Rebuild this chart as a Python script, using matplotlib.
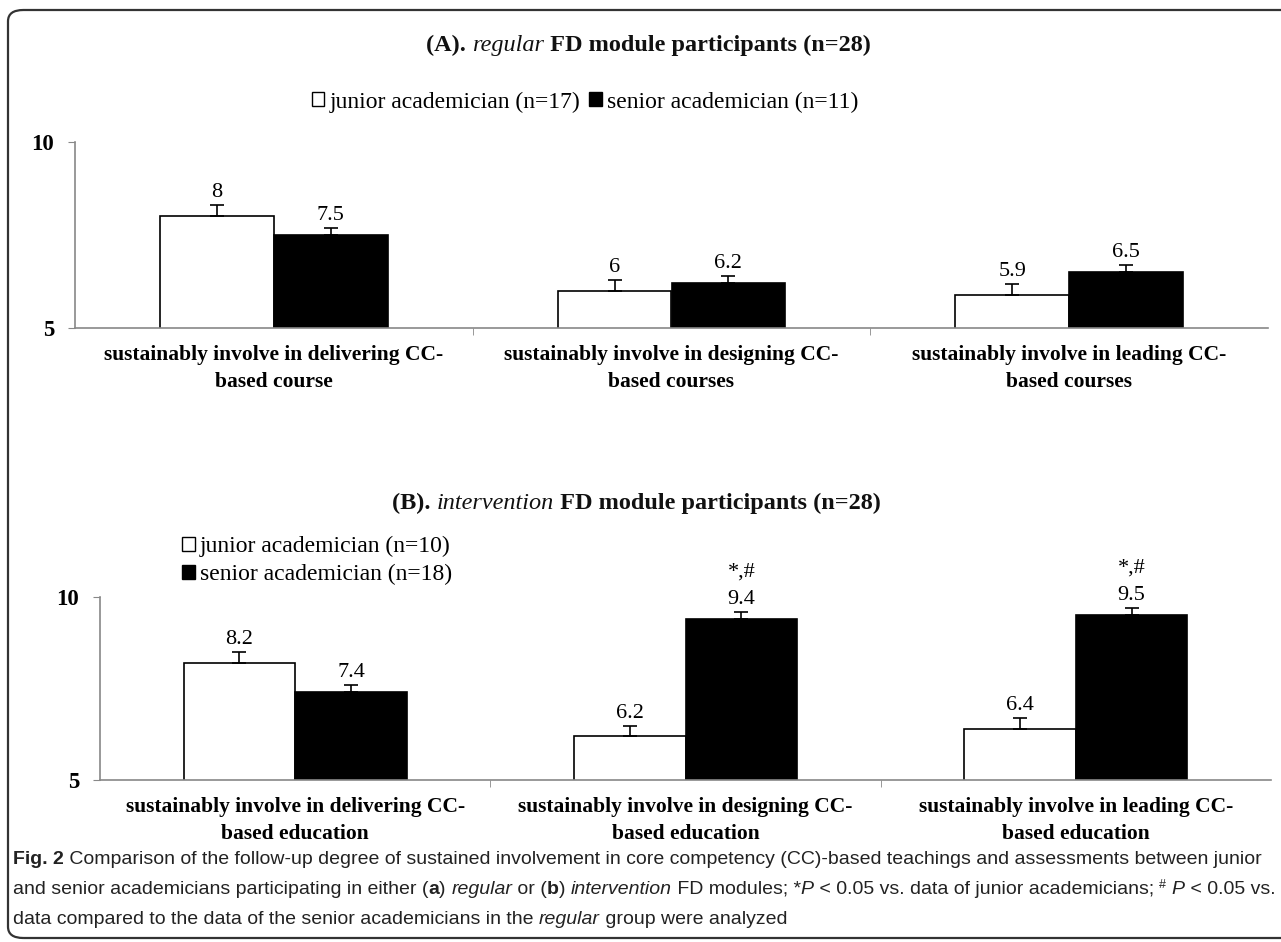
import numpy as np
import matplotlib
import matplotlib.pyplot as plt
from matplotlib.patches import Patch, FancyBboxPatch
from matplotlib import font_manager

W, H = 1281, 942

# data
cats_a = ['sustainably involve in delivering CC-\nbased course',
          'sustainably involve in designing CC-\nbased courses',
          'sustainably involve in leading CC-\nbased courses']
cats_b = ['sustainably involve in delivering CC-\nbased education',
          'sustainably involve in designing CC-\nbased education',
          'sustainably involve in leading CC-\nbased education']
junior_a = [8.0, 6.0, 5.9]
senior_a = [7.5, 6.2, 6.5]
junior_a_err = [0.3, 0.3, 0.28]
senior_a_err = [0.2, 0.2, 0.2]
junior_b = [8.2, 6.2, 6.4]
senior_b = [7.4, 9.4, 9.5]
junior_b_err = [0.3, 0.27, 0.3]
senior_b_err = [0.2, 0.2, 0.2]
senior_b_marks = ['', '*,#', '*,#']

names = {f.name for f in font_manager.fontManager.ttflist}
serif = 'Liberation Serif'
cap_font = 'Liberation Sans Narrow' if 'Liberation Sans Narrow' in names else 'Liberation Sans'

fig = plt.figure(figsize=(W / 100, H / 100), dpi=100)
renderer = fig.canvas.get_renderer()

def px(x, y):
    return x / W, 1 - y / H

def width(s, **kw):
    t = fig.text(0, 0, s + '|', **kw)
    t2 = fig.text(0, 0, '|', **kw)
    w = t.get_window_extent(renderer).width - t2.get_window_extent(renderer).width
    t.remove(); t2.remove()
    return w

def runs(x, y, parts, base):
    for s, extra in parts:
        kw = dict(base)
        kw.update(extra)
        dy = kw.pop('dy', 0)
        fig.text(*px(x, y - dy), s, va='baseline', ha='left', **kw)
        x += width(s, **kw)

# outer rounded frame
frame = FancyBboxPatch((8 / W, 1 - 938 / H), 1290 / W, 928 / H,
                       boxstyle='round,pad=0,rounding_size=0.012',
                       transform=fig.transFigure, fill=False,
                       edgecolor='#333333', linewidth=1.6, clip_on=False)
fig.patches.append(frame)

# titles
tb = dict(family=serif, fontsize=17.5, fontweight='bold', color='#111111')
ti = dict(fontweight='normal', style='italic')
runs(426, 51, [('(A). ', {}), ('regular', ti), (' FD module participants (n=28)', {})], tb)
runs(392, 509, [('(B). ', {}), ('intervention', ti), (' FD module participants (n=28)', {})], tb)

def panel(rect, cats, jun, sen, jerr, serr, marks=None):
    ax = fig.add_axes(rect)
    x = np.arange(len(cats))
    bw = 0.286
    ax.bar(x - bw / 2, jun, bw, color='white', edgecolor='black', linewidth=1.2, zorder=2)
    ax.bar(x + bw / 2, sen, bw, color='black', edgecolor='black', linewidth=1.2, zorder=2)
    ax.errorbar(x - bw / 2, jun, yerr=[np.zeros(len(jun)), jerr], fmt='none',
                ecolor='black', elinewidth=1.2, capsize=5, capthick=1.2, zorder=3)
    ax.errorbar(x + bw / 2, sen, yerr=[np.zeros(len(sen)), serr], fmt='none',
                ecolor='black', elinewidth=1.2, capsize=5, capthick=1.2, zorder=3)
    for xi, v, e in zip(x - bw / 2, jun, jerr):
        ax.annotate(f'{v:g}', (xi, v + e), xytext=(0, 2), textcoords='offset points',
                    ha='center', va='bottom', family=serif, fontsize=16)
    for i, (xi, v, e) in enumerate(zip(x + bw / 2, sen, serr)):
        ax.annotate(f'{v:g}', (xi, v + e), xytext=(0, 2), textcoords='offset points',
                    ha='center', va='bottom', family=serif, fontsize=16)
        if marks and marks[i]:
            ax.annotate(marks[i], (xi, v + e), xytext=(0, 22), textcoords='offset points',
                        ha='center', va='bottom', family=serif, fontsize=16)
    ax.set_xlim(-0.5, len(cats) - 0.5)
    ax.set_ylim(5, 10)
    ax.set_yticks([5, 10])
    ax.set_xticks(x)
    ax.set_xticklabels(cats, family=serif, fontsize=15.5, fontweight='bold', linespacing=1.5)
    ax.set_xticks([0.5, 1.5], minor=True)
    ax.tick_params(axis='x', which='major', length=0, pad=12)
    ax.tick_params(axis='x', which='minor', length=5, color='#888888', direction='out')
    ax.tick_params(axis='y', length=5, color='#888888', pad=10)
    for lab in ax.get_yticklabels():
        lab.set_family(serif); lab.set_fontsize(16.5); lab.set_fontweight('bold')
    for s in ['top', 'right']:
        ax.spines[s].set_visible(False)
    for s in ['left', 'bottom']:
        ax.spines[s].set_color('#888888')
        ax.spines[s].set_linewidth(1.2)
    ax.patch.set_alpha(0)
    return ax

ax_a = panel([75 / W, 1 - 328 / H, 1193 / W, 186 / H], cats_a, junior_a, senior_a,
             junior_a_err, senior_a_err)
ax_b = panel([100 / W, 1 - 780 / H, 1171 / W, 183 / H], cats_b, junior_b, senior_b,
             junior_b_err, senior_b_err, senior_b_marks)

def handles():
    return [Patch(facecolor='white', edgecolor='black', linewidth=1),
            Patch(facecolor='black', edgecolor='black', linewidth=1)]

fig.legend(handles(), ['junior academician (n=17)', 'senior academician (n=11)'],
           loc='center', bbox_to_anchor=px(585, 102), ncol=2, frameon=False,
           prop=dict(family=serif, size=17), handlelength=0.55, handleheight=0.55,
           handletextpad=0.2, columnspacing=0.4, borderpad=0)
fig.legend(handles(), ['junior academician (n=10)', 'senior academician (n=18)'],
           loc='upper left', bbox_to_anchor=px(170, 524), ncol=1, frameon=False,
           prop=dict(family=serif, size=17), handlelength=0.55, handleheight=0.55,
           handletextpad=0.2, labelspacing=0.3, borderpad=0)

# caption
cb = dict(family=cap_font, fontsize=14, color='#222222')
bold = dict(fontweight='bold')
it = dict(style='italic')
runs(13, 864, [('Fig. 2', bold),
               (' Comparison of the follow-up degree of sustained involvement in core competency '
                '(CC)-based teachings and assessments between junior', {})], cb)
runs(13, 894, [('and senior academicians participating in either (', {}), ('a', bold), (') ', {}),
               ('regular', it), (' or (', {}), ('b', bold), (') ', {}), ('intervention', it),
               (' FD modules; *', {}), ('P', it), (' < 0.05 vs. data of junior academicians; ', {}),
               ('#', dict(fontsize=9, dy=6)), (' ', {}), ('P', it), (' < 0.05 vs.', {})], cb)
runs(13, 924, [('data compared to the data of the senior academicians in the ', {}),
               ('regular', it), (' group were analyzed', {})], cb)

fig.savefig('out.png', dpi=100)
